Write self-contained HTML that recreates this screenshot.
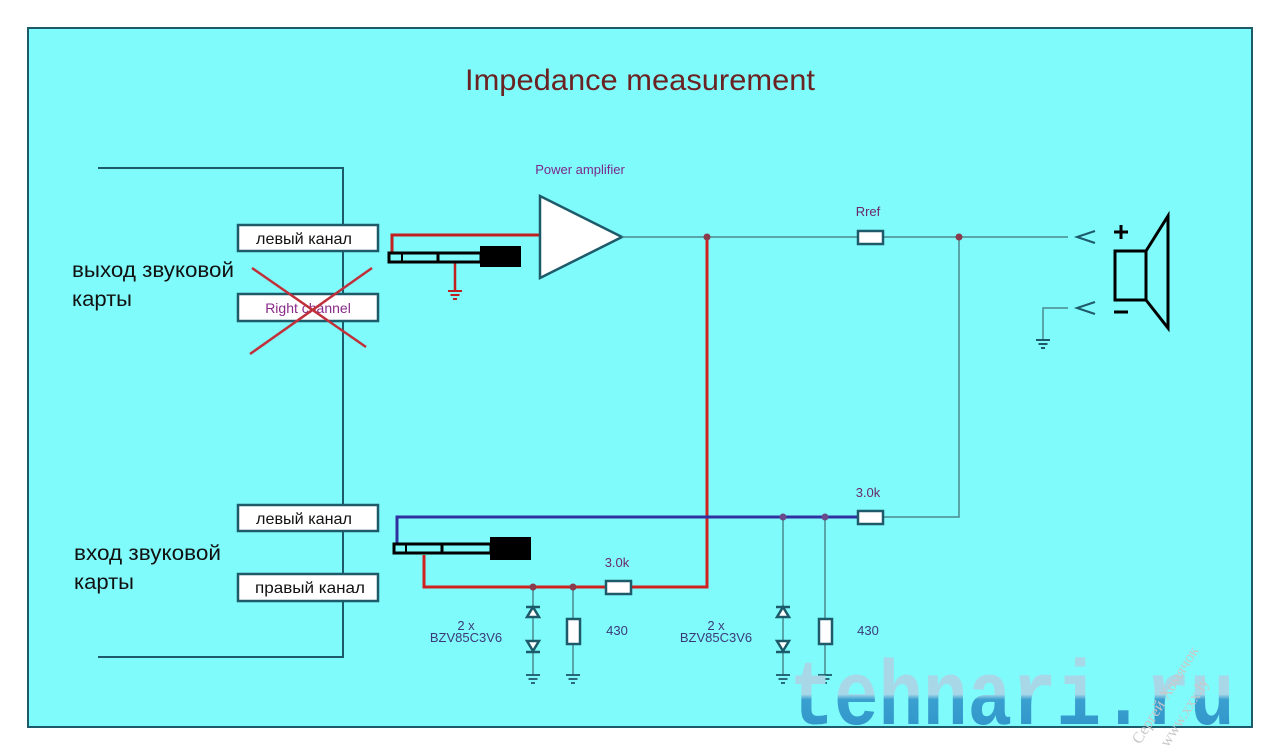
<!DOCTYPE html>
<html><head><meta charset="utf-8"><style>
html,body{margin:0;padding:0;background:#fff;}
svg{display:block;}
</style></head><body>
<svg width="1280" height="755" viewBox="0 0 1280 755" xmlns="http://www.w3.org/2000/svg" font-family="Liberation Sans, sans-serif">
<defs>
<linearGradient id="wm" x1="0" y1="0" x2="0" y2="1">
<stop offset="0" stop-color="#a8d8e8"/><stop offset="0.45" stop-color="#a8d8e8"/><stop offset="0.5" stop-color="#3aa0d0"/><stop offset="1" stop-color="#2a8cc4"/>
</linearGradient>
<g id="gnd"><line x1="-7" y1="0" x2="7" y2="0"/><line x1="-4.5" y1="4" x2="4.5" y2="4"/><line x1="-2" y1="8" x2="2" y2="8"/></g>
</defs>
<rect x="28" y="28" width="1224" height="699" fill="#80fbfb" stroke="#1d5a6a" stroke-width="2"/>
<text x="640" y="90" font-size="30" fill="#6a2222" text-anchor="middle" textLength="350" lengthAdjust="spacingAndGlyphs">Impedance measurement</text>

<!-- sound card lines -->
<g stroke="#1d5a6a" stroke-width="2" fill="none">
<polyline points="98,168 343,168 343,657 98,657"/>
</g>
<g font-family="Liberation Sans, DejaVu Sans, sans-serif" font-size="21" fill="#111">
<text x="72" y="277" textLength="162" lengthAdjust="spacingAndGlyphs">выход звуковой</text>
<text x="72" y="306" textLength="60" lengthAdjust="spacingAndGlyphs">карты</text>
<text x="74" y="560" textLength="147" lengthAdjust="spacingAndGlyphs">вход звуковой</text>
<text x="74" y="589" textLength="60" lengthAdjust="spacingAndGlyphs">карты</text>
</g>
<g fill="#fff" stroke="#1d5a6a" stroke-width="2.5">
<rect x="238" y="225" width="140" height="26"/>
<rect x="238" y="294" width="140" height="27"/>
<rect x="238" y="505" width="140" height="26"/>
<rect x="238" y="574" width="140" height="27"/>
</g>
<g font-size="16" fill="#111" text-anchor="middle" font-family="Liberation Sans, DejaVu Sans, sans-serif">
<text x="304" y="244" textLength="96" lengthAdjust="spacingAndGlyphs">левый канал</text>
<text x="304" y="524" textLength="96" lengthAdjust="spacingAndGlyphs">левый канал</text>
<text x="310" y="593" textLength="110" lengthAdjust="spacingAndGlyphs">правый канал</text>
</g>
<text x="308" y="313" font-size="14" fill="#8a2a8a" text-anchor="middle">Right channel</text>
<g stroke="#c0303a" stroke-width="2.5">
<line x1="252" y1="268" x2="366" y2="347"/>
<line x1="250" y1="354" x2="372" y2="268"/>
</g>

<!-- top jack -->
<polyline points="392,253 392,235 540,235" fill="none" stroke="#c02020" stroke-width="3"/>
<line x1="455" y1="263" x2="455" y2="290" stroke="#c02020" stroke-width="2.5"/>
<g stroke="#c02020" stroke-width="2" transform="translate(455,291)"><use href="#gnd"/></g>
<rect x="389" y="253" width="92" height="9" fill="#80fbfb" stroke="#000" stroke-width="3"/>
<line x1="402" y1="253" x2="402" y2="262" stroke="#000" stroke-width="2"/>
<line x1="438" y1="253" x2="438" y2="262" stroke="#000" stroke-width="3"/>
<rect x="480" y="246" width="41" height="21" fill="#000"/>

<!-- amp -->
<text x="580" y="174" font-size="13" fill="#7a2a8a" text-anchor="middle">Power amplifier</text>
<polygon points="540,196 540,278 622,237" fill="#fff" stroke="#1d5a6a" stroke-width="2.5"/>

<!-- output line -->
<g stroke="#4a8a90" stroke-width="1.5" fill="none">
<line x1="622" y1="237" x2="1068" y2="237"/>
<polyline points="883,517 959,517 959,237"/>
<polyline points="1043,340 1043,308 1068,308"/>
</g>
<g stroke="#1d5a6a" stroke-width="2" transform="translate(1043,340)"><use href="#gnd"/></g>
<text x="868" y="216" font-size="13" fill="#6a2a6a" text-anchor="middle">Rref</text>
<rect x="858" y="231" width="25" height="13" fill="#fff" stroke="#1d5a6a" stroke-width="2.5"/>

<!-- red path -->
<polyline points="707,237 707,587 631,587" fill="none" stroke="#d02020" stroke-width="3"/>
<polyline points="606,587 424,587 424,555" fill="none" stroke="#d02020" stroke-width="3"/>
<circle cx="707" cy="237" r="3.5" fill="#8a3a4a"/>
<circle cx="959" cy="237" r="3.5" fill="#8a3a4a"/>

<!-- blue path -->
<polyline points="397,544 397,517 858,517" fill="none" stroke="#3030a0" stroke-width="3"/>
<rect x="858" y="511" width="25" height="13" fill="#fff" stroke="#1d5a6a" stroke-width="2.5"/>
<text x="868" y="497" font-size="13" fill="#6a2a6a" text-anchor="middle">3.0k</text>

<!-- bottom jack -->
<rect x="394" y="544" width="97" height="9" fill="#80fbfb" stroke="#000" stroke-width="3"/>
<line x1="406" y1="544" x2="406" y2="553" stroke="#000" stroke-width="2"/>
<line x1="442" y1="544" x2="442" y2="553" stroke="#000" stroke-width="3"/>
<rect x="490" y="537" width="41" height="23" fill="#000"/>

<rect x="606" y="581" width="25" height="13" fill="#fff" stroke="#1d5a6a" stroke-width="2.5"/>
<text x="617" y="567" font-size="13" fill="#6a2a6a" text-anchor="middle">3.0k</text>

<!-- clamp sets -->
<g>
<g stroke="#4a8a90" stroke-width="1.5">
<line x1="533" y1="587" x2="533" y2="675"/>
<line x1="573" y1="587" x2="573" y2="675"/>
</g>
<g fill="#fff" stroke="#1d5a6a" stroke-width="2.5">
<polygon points="533,607 527,617 539,617"/>
<polygon points="527,641 539,641 533,651"/>
<rect x="567" y="619" width="13" height="25"/>
</g>
<g stroke="#1d5a6a" stroke-width="2.5">
<line x1="526" y1="607" x2="540" y2="607"/><line x1="526" y1="652" x2="540" y2="652"/>
</g>
<g stroke="#1d5a6a" stroke-width="1.8"><use href="#gnd" transform="translate(533,675)"/><use href="#gnd" transform="translate(573,675)"/></g>
<circle cx="533" cy="587" r="3.5" fill="#8a3a4a"/>
<circle cx="573" cy="587" r="3.5" fill="#8a3a4a"/>
</g>
<g font-size="13" fill="#3a3a7a" text-anchor="middle">
<text x="466" y="630">2 x</text><text x="466" y="642">BZV85C3V6</text>
<text x="617" y="635">430</text>
<text x="716" y="630">2 x</text><text x="716" y="642">BZV85C3V6</text>
<text x="868" y="635">430</text>
</g>
<g transform="translate(250,-70)">
<g stroke="#4a8a90" stroke-width="1.5">
<line x1="533" y1="587" x2="533" y2="745"/>
<line x1="575" y1="587" x2="575" y2="745"/>
</g>
<g fill="#fff" stroke="#1d5a6a" stroke-width="2.5">
<polygon points="533,677 527,687 539,687"/>
<polygon points="527,711 539,711 533,721"/>
<rect x="569" y="689" width="13" height="25"/>
</g>
<g stroke="#1d5a6a" stroke-width="2.5">
<line x1="526" y1="677" x2="540" y2="677"/><line x1="526" y1="722" x2="540" y2="722"/>
</g>
<g stroke="#1d5a6a" stroke-width="1.8"><use href="#gnd" transform="translate(533,745)"/><use href="#gnd" transform="translate(575,745)"/></g>
<circle cx="533" cy="587" r="3.5" fill="#6a4a8a"/>
<circle cx="575" cy="587" r="3.5" fill="#6a4a8a"/>
</g>

<!-- speaker -->
<g stroke="#1d5a6a" stroke-width="2" fill="none">
<polyline points="1095,231 1077,237 1095,243"/>
<polyline points="1095,302 1077,308 1095,314"/>
</g>
<g stroke="#000" stroke-width="3" fill="none">
<rect x="1115" y="251" width="31" height="49"/>
<polyline points="1146,251 1168,216 1168,328 1146,300"/>
<line x1="1114" y1="232" x2="1128" y2="232"/><line x1="1121" y1="225" x2="1121" y2="239"/>
<line x1="1114" y1="312" x2="1128" y2="312"/>
</g>

<!-- watermark -->
<text x="1012" y="724" font-family="Liberation Mono, monospace" font-weight="bold" font-size="92" fill="url(#wm)" text-anchor="middle" textLength="445" lengthAdjust="spacingAndGlyphs">tehnari.ru</text>
<g fill="#c8c8c8" font-size="16" font-family="Liberation Serif, serif">
<text transform="translate(1140,745) rotate(-58)">Сергей Хомячок</text>
<text transform="translate(1168,748) rotate(-58)">www.xxx.ly</text>
</g>
</svg>
</body></html>
